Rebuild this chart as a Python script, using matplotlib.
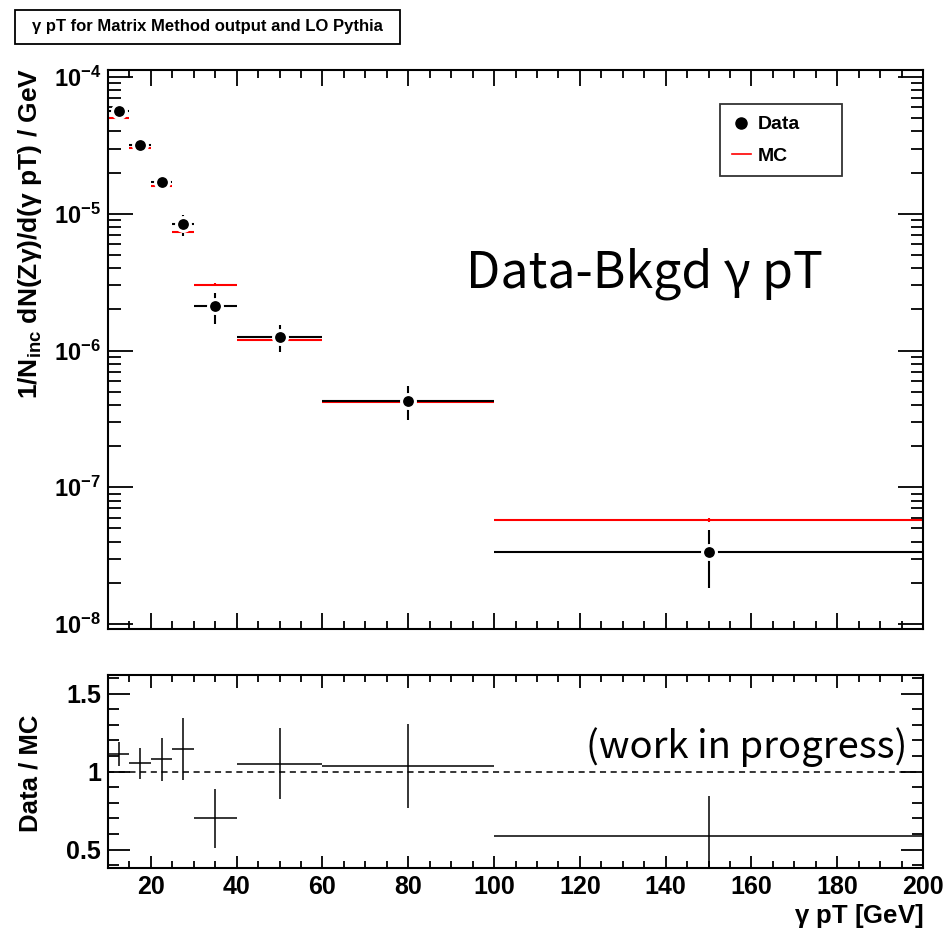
"""gamma pT spectrum: Matrix Method data vs LO Pythia MC, with Data/MC ratio."""
import matplotlib
matplotlib.use("Agg")
import matplotlib.pyplot as plt
import numpy as np
from matplotlib.lines import Line2D
from matplotlib.patches import Rectangle
from matplotlib.ticker import FixedLocator, FuncFormatter, LogLocator, MultipleLocator, NullFormatter

plt.rcParams["font.family"] = ["Liberation Sans", "DejaVu Sans"]
plt.rcParams["mathtext.fontset"] = "custom"
plt.rcParams["mathtext.rm"] = "Liberation Sans"
plt.rcParams["mathtext.bf"] = "Liberation Sans:bold"
plt.rcParams["mathtext.it"] = "Liberation Sans:italic"

# bins (GeV)
bin_lo = [10, 15, 20, 25, 30, 40, 60, 100]
bin_hi = [15, 20, 25, 30, 40, 60, 100, 200]

# background-subtracted data, 1/N dN/dpT
data_val = [5.6e-5, 3.16e-5, 1.72e-5, 8.35e-6, 2.10e-6, 1.25e-6, 4.28e-7, 3.35e-8]
data_err = [0.35e-5, 0.15e-5, 0.15e-5, 1.5e-6, 0.55e-6, 0.28e-6, 1.2e-7, 1.5e-8]

# LO Pythia
mc_val = [5.0e-5, 3.03e-5, 1.60e-5, 7.3e-6, 3.03e-6, 1.20e-6, 4.20e-7, 5.78e-8]
mc_err = [0.08e-5, 0.05e-5, 0.03e-5, 0.12e-6, 0.08e-6, 0.03e-6, 0.08e-7, 0.17e-8]

# Data / MC
ratio_val = [1.113, 1.053, 1.079, 1.145, 0.700, 1.051, 1.034, 0.584]
ratio_err = [0.075, 0.100, 0.137, 0.200, 0.190, 0.228, 0.270, 0.262]

lo = np.array(bin_lo, float)
hi = np.array(bin_hi, float)
xc = (lo + hi) / 2
xw = (hi - lo) / 2

W, H = 944, 930
fig = plt.figure(figsize=(W / 100, H / 100), dpi=100)
ax = fig.add_axes([108 / W, 1 - 629 / H, 815 / W, 559 / H])
axr = fig.add_axes([108 / W, 1 - 868 / H, 815 / W, 193 / H])

# --- main panel
ax.errorbar(xc, mc_val, xerr=xw, yerr=mc_err, fmt="none", ecolor="#ff0000", elinewidth=1.5, zorder=2)
ax.errorbar(xc, data_val, xerr=xw, yerr=data_err, fmt="o", color="black", ms=10, mfc="black",
            mec="white", mew=2.2, elinewidth=1.5, zorder=3)
ax.set_yscale("log")
ax.set_xlim(10, 200)
ax.set_ylim(9.2e-9, 1.125e-4)
ax.yaxis.set_major_locator(LogLocator(base=10, subs=(1.0,)))
ax.yaxis.set_minor_locator(LogLocator(base=10, subs=np.arange(2, 10)))
ax.yaxis.set_major_formatter(FuncFormatter(lambda v, p: r"$\mathbf{10^{%d}}$" % round(np.log10(v))))
ax.yaxis.set_minor_formatter(NullFormatter())
ax.xaxis.set_major_locator(MultipleLocator(20))
ax.xaxis.set_minor_locator(MultipleLocator(5))
ax.xaxis.set_major_formatter(NullFormatter())
ax.tick_params(axis="both", which="both", direction="in", top=True, right=True, width=1.3, colors="black")
ax.tick_params(axis="x", which="major", length=11.5)
ax.tick_params(axis="x", which="minor", length=5.8)
ax.tick_params(axis="y", which="major", length=18, labelsize=17, pad=5)
ax.tick_params(axis="y", which="minor", length=9)
for s in ax.spines.values():
    s.set_linewidth(1.5)

fig.text(30 / W, 1 - 233 / H, r"1/N$_{\mathbf{inc}}$ dN(Z$\mathbf{\gamma}$)/d($\mathbf{\gamma}$ pT) / GeV",
         rotation=90, ha="center", va="center", fontsize=19, fontweight="bold")

ax.text(0.439, 0.636, "Data-Bkgd γ pT", transform=ax.transAxes, ha="left", va="center",
        fontsize=36, family=["Noto Sans CJK JP", "DejaVu Sans"])

handles = [Line2D([], [], marker="o", color="black", ls="none", ms=8),
           Line2D([], [], color="#ff0000", lw=1.2)]
leg = ax.legend(handles, ["Data", "MC"], loc="upper left", bbox_to_anchor=(0.751, 0.5, 0.1497, 0.439),
                mode="expand", prop={"weight": "bold", "size": 14}, frameon=True, fancybox=False,
                edgecolor="black", handlelength=1.0, handletextpad=0.35, borderpad=0.6,
                labelspacing=0.7, borderaxespad=0)
leg.get_frame().set_linewidth(1.3)

# --- ratio panel
axr.errorbar(xc, ratio_val, xerr=xw, yerr=ratio_err, fmt="none", ecolor="black", elinewidth=1.1)
axr.axhline(1.0, color="black", ls=(0, (4, 3)), lw=1.1)
axr.set_xlim(10, 200)
axr.set_ylim(0.382, 1.619)
axr.yaxis.set_major_locator(FixedLocator([0.5, 1.0, 1.5]))
axr.yaxis.set_minor_locator(MultipleLocator(0.1))
axr.yaxis.set_major_formatter(FuncFormatter(lambda v, p: f"{v:g}"))
axr.xaxis.set_major_locator(MultipleLocator(20))
axr.xaxis.set_minor_locator(MultipleLocator(5))
axr.xaxis.set_major_formatter(FuncFormatter(lambda v, p: "" if v < 20 else f"{v:g}"))
axr.tick_params(axis="both", which="both", direction="in", top=True, right=True, width=1.3)
axr.tick_params(axis="x", which="major", length=9, labelsize=18, pad=5)
axr.tick_params(axis="x", which="minor", length=5)
axr.tick_params(axis="y", which="major", length=15.5, labelsize=18, pad=5)
axr.tick_params(axis="y", which="minor", length=8)
for lab in axr.get_xticklabels() + axr.get_yticklabels() + ax.get_yticklabels():
    lab.set_fontweight("bold")
for s in axr.spines.values():
    s.set_linewidth(1.5)

fig.text(31 / W, 1 - 773 / H, "Data / MC", rotation=90, ha="center", va="center",
         fontsize=18.5, fontweight="bold")
axr.text(0.981, 0.625, "(work in progress)", transform=axr.transAxes, ha="right", va="center",
         fontsize=27.5, family=["Noto Sans CJK JP", "DejaVu Sans"])
fig.text(923 / W, 1 - 916 / H, r"$\mathbf{\gamma}$ pT [GeV]", ha="right", va="center",
         fontsize=18.5, fontweight="bold")

# --- title box
fig.patches.append(Rectangle((15 / W, 1 - 44 / H), 385 / W, 34 / H, transform=fig.transFigure,
                             fc="white", ec="black", lw=1.3))
fig.text(207 / W, 1 - 27 / H, "γ pT for Matrix Method output and LO Pythia", ha="center", va="center",
         fontsize=12.0, fontweight="bold")

fig.savefig("out.png", dpi=100)
